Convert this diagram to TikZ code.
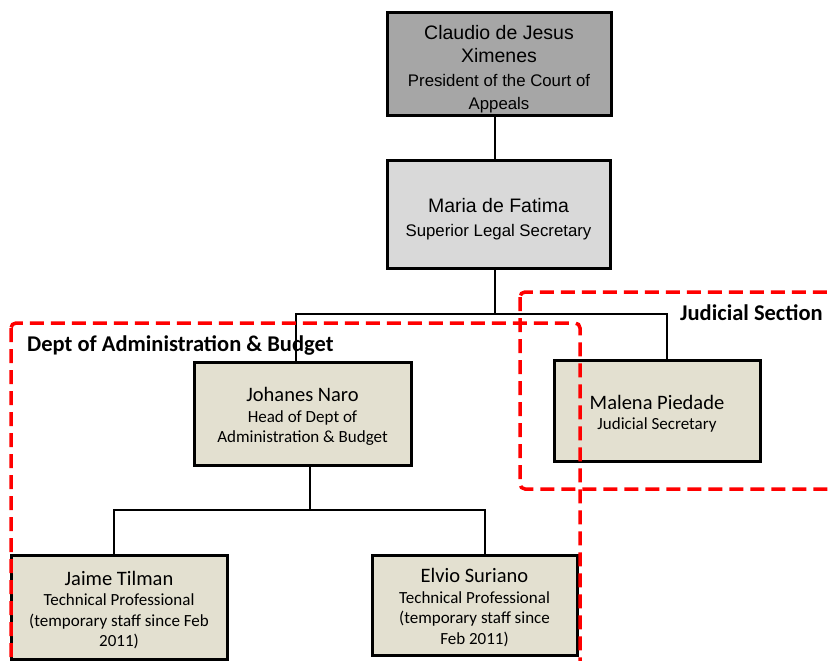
\documentclass[tikz,border=0pt]{standalone}
\usepackage{fontspec}
\newfontfamily\arialf{Liberation Sans}
\newfontfamily\calibf{Carlito}
\newcommand{\anm}{\arialf\fontsize{19.5}{25}\selectfont}
\newcommand{\asb}{\arialf\fontsize{16.8}{23}\selectfont}
\newcommand{\knm}{\calibf\fontsize{20.5}{21}\selectfont}
\newcommand{\ksb}{\calibf\fontsize{17}{20}\selectfont}
\newcommand{\klab}{\calibf\bfseries\fontsize{22.5}{24}\selectfont}
\definecolor{presgray}{HTML}{A6A6A6}
\definecolor{secgray}{HTML}{D9D9D9}
\definecolor{tan}{HTML}{E3E0D0}
\definecolor{dred}{HTML}{FF0000}
\tikzset{
  box/.style={draw=black, line width=3pt, rectangle, inner sep=0pt},
  atxt/.style={align=center, inner sep=0pt, font=\arialf\fontsize{16.8}{23.5}\selectfont},
  ctxt/.style={align=center, inner sep=0pt, font=\calibf\fontsize{17}{20.5}\selectfont},
  conn/.style={draw=black, line width=2.8pt},
  grp/.style={draw=dred, line width=3.5pt, dash pattern=on 14pt off 7pt, rounded corners=5pt},
  lab/.style={anchor=west, inner sep=0pt, font=\klab}
}
\begin{document}
\begin{tikzpicture}[x=1pt,y=-1pt]
\clip (0,0) rectangle (830,661);
\fill[white] (0,0) rectangle (830,661);
% boxes
\node[box, fill=presgray, minimum width=224pt, minimum height=102pt] (claudio) at (499,64) {};
\node[atxt] (claudiot) at ([yshift=-5pt]claudio.center)
  {\anm Claudio de Jesus\\\anm Ximenes\\\asb President of the Court of\\\asb Appeals};
\node[box, fill=secgray, minimum width=223pt, minimum height=108pt] (maria) at (498.5,214) {};
\node[atxt] (mariat) at ([yshift=-5pt]maria.center)
  {\anm Maria de Fatima\\\asb Superior Legal Secretary};
\node[box, fill=tan, minimum width=217pt, minimum height=103pt] (johanes) at (302.5,413.5) {};
\node[ctxt] (johanest) at ([yshift=-3pt]johanes.center)
  {\knm Johanes Naro\\\ksb Head of Dept of\\\ksb Administration \& Budget};
\node[box, fill=tan, minimum width=206pt, minimum height=101pt] (malena) at (657,410.5) {};
\node[ctxt] (malenat) at ([yshift=-3pt]malena.center)
  {\knm Malena Piedade\\\ksb Judicial Secretary};
\node[box, fill=tan, minimum width=216pt, minimum height=104pt] (jaime) at (119,607) {};
\node[ctxt] (jaimet) at ([yshift=-3pt]jaime.center)
  {\knm Jaime Tilman\\\ksb Technical Professional\\\ksb (temporary staff since Feb\\\ksb 2011)};
\node[box, fill=tan, minimum width=205pt, minimum height=100pt] (elvio) at (474.5,605) {};
\node[ctxt] (elviot) at ([yshift=-2.5pt]elvio.center)
  {\knm Elvio Suriano\\\ksb Technical Professional\\\ksb (temporary staff since\\\ksb Feb 2011)};
% connectors
\coordinate (t1) at (495,0);
\coordinate (b1) at (495,314);
\coordinate (b1l) at (296,314);
\coordinate (b1r) at (667,314);
\coordinate (b2) at (310,510);
\coordinate (b2l) at (114,510);
\coordinate (b2r) at (485,510);
\draw[conn] (claudio.south -| t1) -- (maria.north -| t1);
\draw[conn] (maria.south -| b1) -- (b1);
\draw[conn] (johanes.north -| b1l) -- (b1l) -- (b1r) -- (malena.north -| b1r);
\draw[conn] (johanes.south -| b2) -- (b2);
\draw[conn] (jaime.north -| b2l) -- (b2l) -- (b2r) -- (elvio.north -| b2r);
% groups
\draw[grp] (11,323) rectangle (580,690);
\draw[grp] (520,292) rectangle (850,489);
\node[lab] (deptlab) at (27,345) {Dept of Administration \& Budget};
\node[lab] (judlab) at (680,313) {Judicial Section};
\end{tikzpicture}
\end{document}
